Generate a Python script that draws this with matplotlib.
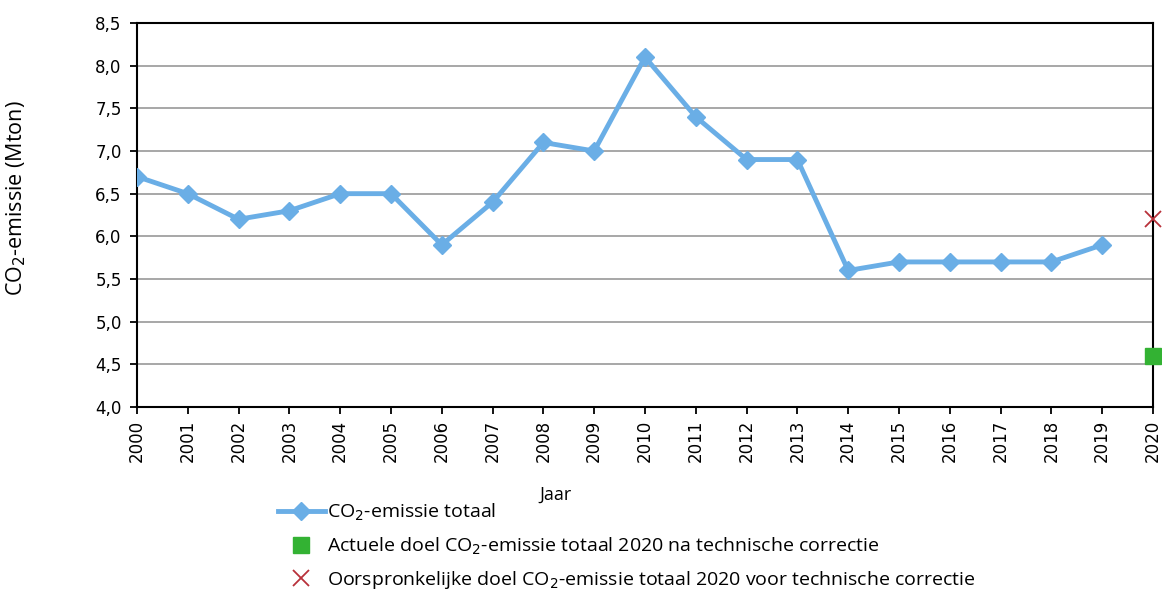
import matplotlib
matplotlib.use("Agg")
import matplotlib.pyplot as plt

years = list(range(2000, 2020))
emissions = [6.7, 6.5, 6.2, 6.3, 6.5, 6.5, 5.9, 6.4, 7.1, 7.0, 8.1, 7.4, 6.9, 6.9, 5.6, 5.7, 5.7, 5.7, 5.7, 5.9]
target_year = [2020]
target_current = [4.6]
target_original = [6.2]
xticks = list(range(2000, 2021))
yticks = [4.0, 4.5, 5.0, 5.5, 6.0, 6.5, 7.0, 7.5, 8.0, 8.5]
ytick_labels = ["4,0", "4,5", "5,0", "5,5", "6,0", "6,5", "7,0", "7,5", "8,0", "8,5"]

label_line = "CO$_2$-emissie totaal"
label_sq = "Actuele doel CO$_2$-emissie totaal 2020 na technische correctie"
label_x = "Oorspronkelijke doel CO$_2$-emissie totaal 2020 voor technische correctie"

fig = plt.figure(figsize=(11.62, 5.92), dpi=100)
ax = fig.add_axes([137/1162, 1-407/592, (1153-137)/1162, (407-23)/592])

blue = "#6aaee6"
ax.plot(years, emissions, color=blue, lw=3.5, marker="D", ms=9, zorder=3, label=label_line)
ax.plot(target_year, target_current, ls="none", marker="s", ms=12, color="#33b233",
        clip_on=False, zorder=4, label=label_sq)
ax.plot(target_year, target_original, ls="none", marker="x", ms=11, mew=1.3, color="#b8313a",
        clip_on=False, zorder=4, label=label_x)

ax.set_xlim(2000, 2020)
ax.set_ylim(4.0, 8.5)
ax.set_xticks(xticks)
ax.set_xticklabels([str(x) for x in xticks], rotation=90, fontsize=12)
ax.set_yticks(yticks)
ax.set_yticklabels(ytick_labels, fontsize=12)
ax.yaxis.grid(True, color="#a0a0a0", lw=1.3)
ax.set_axisbelow(True)
for s in ax.spines.values():
    s.set_linewidth(1.5)
    s.set_color("black")
ax.tick_params(axis="both", direction="out", length=5, width=1.3, color="black", pad=4)
ax.tick_params(axis="y", pad=6)

fig.text(16/1162, 1-198/592, "CO$_2$-emissie (Mton)", rotation=90, va="center", ha="center",
         fontsize=15.5, family="Open Sans")
fig.text(555/1162, 1-495/592, "Jaar", va="center", ha="center", fontsize=13, family="Open Sans")

handles, labels = ax.get_legend_handles_labels()
leg = fig.legend(handles, labels, loc="upper left", bbox_to_anchor=(278/1162, 1-502/592),
                 frameon=False, borderpad=0, borderaxespad=0, handlelength=2.4,
                 handletextpad=0.12, labelspacing=0.62,
                 prop={"family": "Open Sans", "size": 14})

fig.savefig("out.png", dpi=100)
